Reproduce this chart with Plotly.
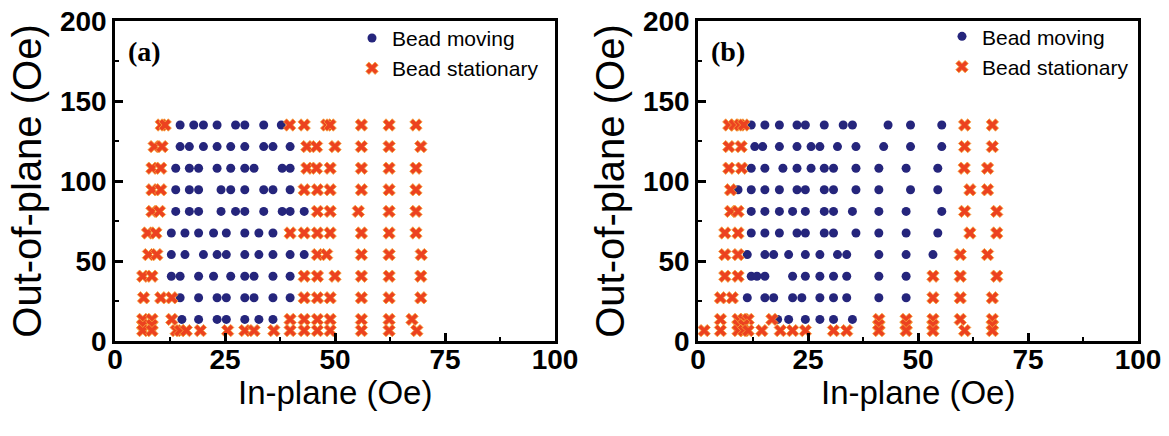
import plotly.graph_objects as go

# Row levels (out-of-plane field, Oe)
rows = [135, 121.5, 108, 94.5, 81, 67.5, 54, 40.5, 27, 13.5, 10, 6.5]

# Panel (a): in-plane fields per row
a_moving = [
    [14.8, 17.9, 20.1, 23.2, 27.4, 29.5, 33.8, 37.8],
    [14.8, 16.9, 20.1, 23.2, 26.3, 29.5, 33.8, 35.9, 39.8],
    [13.8, 16.9, 19.0, 23.2, 26.3, 29.5, 31.6, 38.0, 39.8],
    [13.8, 16.9, 19.0, 24.1, 26.3, 29.5, 33.8, 35.9, 39.8],
    [13.8, 16.9, 19.0, 24.1, 27.4, 29.5, 33.8, 38.0, 39.8, 43.0],
    [12.8, 15.9, 19.0, 22.4, 25.3, 29.5, 32.7, 35.9],
    [12.8, 15.9, 20.1, 23.2, 25.3, 29.5, 32.7, 35.9, 39.8, 43.0],
    [12.8, 14.8, 19.0, 22.4, 26.3, 29.5, 31.6, 35.9, 39.8],
    [14.8, 19.0, 23.2, 25.3, 29.5, 31.6, 35.9, 39.8],
    [15.2, 19.0, 23.2, 25.3, 29.5, 32.7, 35.9],
    [],
    [],
]
a_stationary = [
    [10.5, 11.4, 39.7, 43.0, 48.1, 48.9, 56.0, 62.3, 68.4],
    [8.9, 10.7, 43.6, 45.8, 50.0, 56.0, 62.3, 69.5],
    [8.4, 10.4, 43.6, 45.8, 48.9, 56.0, 62.3, 68.4],
    [8.4, 10.4, 43.0, 46.0, 48.9, 56.0, 62.3, 68.4],
    [8.4, 10.1, 46.0, 48.9, 55.3, 62.3, 68.4],
    [7.4, 9.3, 39.8, 43.0, 46.0, 48.9, 56.0, 62.3, 68.4],
    [7.6, 9.5, 46.0, 48.1, 56.0, 62.3, 69.6],
    [6.3, 8.4, 43.0, 46.0, 50.0, 56.0, 62.3, 69.5],
    [6.5, 10.4, 12.9, 43.0, 46.0, 48.9, 56.0, 62.3, 69.5],
    [6.3, 8.4, 12.9, 39.8, 43.0, 46.0, 48.9, 56.0, 62.3, 67.5],
    [6.3, 8.4],
    [6.3, 8.4, 13.9, 14.8, 16.2, 19.4, 25.6, 29.5, 31.6, 36.1, 39.8, 43.0, 46.0, 48.9, 56.0, 62.3, 68.6],
]

# Panel (b)
b_moving = [
    [12.1, 15.2, 18.5, 22.5, 24.4, 28.7, 33.0, 35.1, 43.2, 48.3, 55.4],
    [12.9, 14.7, 18.5, 22.5, 25.7, 27.7, 31.7, 35.9, 42.2, 48.3, 55.4],
    [12.1, 15.2, 19.3, 22.5, 25.7, 28.7, 30.8, 35.9, 41.1, 47.3, 54.5],
    [9.1, 12.1, 15.2, 18.5, 22.5, 24.4, 28.7, 30.8, 35.9, 41.1, 48.3, 54.5],
    [12.1, 15.2, 18.5, 21.5, 24.4, 28.7, 30.8, 35.1, 41.1, 47.3, 55.4],
    [12.1, 15.2, 18.5, 22.5, 24.4, 28.7, 30.8, 35.9, 41.1, 47.3, 54.5],
    [11.2, 15.2, 17.2, 20.6, 24.4, 27.7, 31.7, 33.8, 41.1, 47.3, 53.4],
    [12.1, 13.4, 15.2, 21.5, 24.4, 27.7, 30.8, 33.8, 41.1, 47.3],
    [11.2, 15.2, 17.2, 21.5, 23.6, 27.7, 30.8, 33.8, 41.1, 47.3],
    [18.1, 20.6, 24.4, 27.7, 30.8, 35.1],
    [],
    [],
]
b_stationary = [
    [7.0, 8.3, 9.5, 10.4, 60.6, 66.9],
    [7.0, 9.8, 60.6, 66.9],
    [7.0, 9.9, 60.5, 65.8],
    [7.4, 61.8, 65.8],
    [7.4, 9.1, 60.6, 67.9],
    [6.1, 9.1, 61.8, 67.9],
    [6.1, 9.1, 59.6, 65.8],
    [6.1, 9.1, 53.4, 59.6, 67.9],
    [5.1, 7.8, 53.4, 59.6, 66.9],
    [5.1, 9.1, 10.4, 11.4, 16.8, 41.1, 47.3, 53.4, 59.6, 66.9],
    [9.1, 10.4, 41.1, 47.3, 53.4, 66.9],
    [1.4, 5.1, 9.1, 10.4, 11.4, 14.5, 18.7, 21.5, 24.4, 30.8, 33.8, 41.1, 47.3, 53.4, 60.6, 66.9],
]

x_ticks = [0, 25, 50, 75, 100]
y_ticks = [0, 50, 100, 150, 200]
panel_labels = ["(a)", "(b)"]
series_names = ["Bead moving", "Bead stationary"]
x_title = "In-plane (Oe)"
y_title = "Out-of-plane (Oe)"


def flatten(per_row):
    xs, ys = [], []
    for yv, xl in zip(rows, per_row):
        for xv in xl:
            xs.append(xv)
            ys.append(yv)
    return xs, ys


NAVY = "#25257c"
RED = "#ec4220"

fig = go.Figure()
panels = [(a_moving, a_stationary, "x", "y", "legend"),
          (b_moving, b_stationary, "x2", "y2", "legend2")]
for mov, sta, xa, ya, lg in panels:
    mx, my = flatten(mov)
    sx, sy = flatten(sta)
    fig.add_trace(go.Scatter(x=mx, y=my, mode="markers", name=series_names[0],
                             xaxis=xa, yaxis=ya, legend=lg,
                             marker=dict(symbol="circle", size=9, color=NAVY,
                                         line=dict(width=0))))
    fig.add_trace(go.Scatter(x=sx, y=sy, mode="markers", name=series_names[1],
                             xaxis=xa, yaxis=ya, legend=lg,
                             marker=dict(symbol="x", size=11, color=RED,
                                         line=dict(width=0.8, color="#f6a63a"))))

L, R, T, B = 115, 31, 21, 95
W, H = 1169, 436
pw = W - L - R
ph = H - T - B
dom_a = [0, 440 / pw]
dom_b = [(698 - L) / pw, 1]

tick_font = dict(family="Liberation Sans, Arial", size=28, color="black", weight="bold")
title_font_x = dict(family="Liberation Sans Narrow, Liberation Sans", size=33, color="black")
title_font_y = dict(family="Liberation Sans Narrow, Liberation Sans", size=40, color="black")

xcommon = dict(range=[0, 100], tickvals=x_ticks, ticks="inside", ticklen=8, tickwidth=2.5,
               tickcolor="black", showline=True, linewidth=2.5, linecolor="black",
               mirror=True, showgrid=False, zeroline=False,
               tickfont=tick_font, ticklabelstandoff=-8,
               minor=dict(dtick=12.5, ticks="inside", ticklen=4, tickwidth=2, tickcolor="black"))
ycommon = dict(range=[0, 200], tickvals=y_ticks, ticks="inside", ticklen=8, tickwidth=2.5,
               tickcolor="black", showline=True, linewidth=2.5, linecolor="black",
               mirror=True, showgrid=False, zeroline=False,
               tickfont=tick_font,
               minor=dict(dtick=25, ticks="inside", ticklen=4, tickwidth=2, tickcolor="black"),
               title=dict(text=y_title, font=title_font_y, standoff=6))

legend_font = dict(family="Liberation Sans, Arial", size=21, color="black")
fig.update_layout(
    width=W, height=H,
    margin=dict(l=L, r=R, t=T, b=B, autoexpand=False),
    paper_bgcolor="white", plot_bgcolor="white",
    xaxis=dict(domain=dom_a, anchor="y", **xcommon),
    yaxis=dict(domain=[0, 1], anchor="x", **ycommon),
    xaxis2=dict(domain=dom_b, anchor="y2", **xcommon),
    yaxis2=dict(domain=[0, 1], anchor="x2", **ycommon),
    legend=dict(x=(352 - L) / pw, y=1.01, xanchor="left", yanchor="top",
                bgcolor="rgba(0,0,0,0)", font=legend_font,
                tracegroupgap=0, itemwidth=30),
    legend2=dict(x=(942 - L) / pw, y=1.015, xanchor="left", yanchor="top",
                 bgcolor="rgba(0,0,0,0)", font=legend_font,
                 tracegroupgap=0, itemwidth=30),
    showlegend=True,
)

for lab, xr, yr in [(panel_labels[0], "x domain", "y domain"), (panel_labels[1], "x2 domain", "y2 domain")]:
    fig.add_annotation(text=lab, xref=xr, yref=yr, x=0.025, y=0.905, xanchor="left",
                       yanchor="middle", showarrow=False,
                       font=dict(family="Liberation Serif, Times New Roman", size=28, color="black",
                                 weight="bold"))

# x-axis titles
for xr in ["x domain", "x2 domain"]:
    fig.add_annotation(text=x_title, xref=xr, yref="paper", x=0.5, y=-(392 - (H - B)) / ph,
                       xanchor="center", yanchor="middle", showarrow=False,
                       font=title_font_x)

fig.write_html("out.html")
